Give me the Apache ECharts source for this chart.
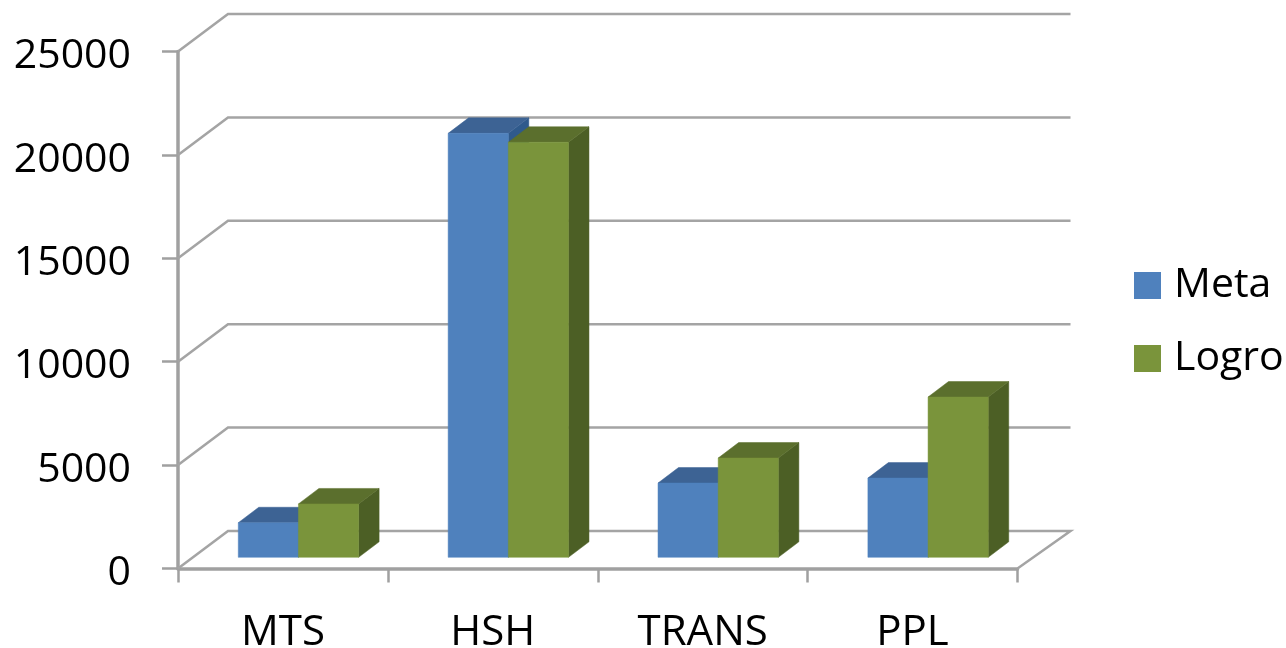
<!DOCTYPE html>
<html><head><meta charset="utf-8">
<style>html,body{margin:0;padding:0;background:#fff;overflow:hidden}#c{width:1286px;height:648px}</style>
<script src="https://cdn.jsdelivr.net/npm/echarts@6/dist/echarts.min.js"></script>
</head><body><div id="c"></div>
<script>
const categories = ["MTS", "HSH", "TRANS", "PPL"];
const meta = [1670, 20500, 3590, 3830];
const logro = [2580, 20070, 4800, 7750];
const gridValues = [5000, 10000, 15000, 20000, 25000];

const FONT = '"Open Sans", "Noto Sans", sans-serif';
const GRID_COLOR = '#a4a4a4';
const AXIS_COLOR = '#a0a0a0';
const WALL_DX = 50, WALL_DY = -37.5, WALL_EXT = 3;
const BAR_DX = 20.5, BAR_DY = -15.5;
const BAR_LIFT = -11.2, BAR_SHIFT = 15.5;
const BAR_RATIO = 60.2 / 210;

function poly(points, fill) {
  return { type: 'polygon', shape: { points }, style: { fill, stroke: fill, lineWidth: 0.5 } };
}
function barRenderer(front, top, side, slot) {
  return function (params, api) {
    const base = api.coord([api.value(0), 0]);
    const tip = api.coord([api.value(0), api.value(1)]);
    const w = api.size([1, 0])[0] * BAR_RATIO;
    const x0 = base[0] + BAR_SHIFT + slot * w;
    const x1 = x0 + w;
    const yb = base[1] + BAR_LIFT;
    const yt = tip[1] + BAR_LIFT;
    return {
      type: 'group',
      children: [
        poly([[x1, yt], [x1 + BAR_DX, yt + BAR_DY], [x1 + BAR_DX, yb + BAR_DY], [x1, yb]], side),
        poly([[x0, yt], [x0 + BAR_DX, yt + BAR_DY], [x1 + BAR_DX, yt + BAR_DY], [x1, yt]], top),
        poly([[x0, yt], [x1, yt], [x1, yb], [x0, yb]], front)
      ]
    };
  };
}
function wallRenderer(params, api) {
  const cs = params.coordSys;
  const y = api.coord([0, api.value(1)])[1];
  return {
    type: 'polyline',
    shape: { points: [[cs.x, y], [cs.x + WALL_DX, y + WALL_DY], [cs.x + cs.width + WALL_DX + WALL_EXT, y + WALL_DY]] },
    style: { fill: null, stroke: GRID_COLOR, lineWidth: 2.5 }
  };
}
function floorRenderer(params, api) {
  const cs = params.coordSys;
  const y = api.coord([0, 0])[1];
  return {
    type: 'polyline',
    shape: { points: [[cs.x, y], [cs.x + WALL_DX, y + WALL_DY], [cs.x + cs.width + WALL_DX + WALL_EXT, y + WALL_DY], [cs.x + cs.width, y]] },
    style: { fill: null, stroke: GRID_COLOR, lineWidth: 2.5 }
  };
}

const chart = echarts.init(document.getElementById('c'), null, { renderer: 'canvas' });
chart.setOption({
  animation: false,
  backgroundColor: '#fff',
  textStyle: { fontFamily: FONT },
  grid: { left: 178, right: 268.5, top: 51.5, bottom: 79.5, containLabel: false, outerBoundsMode: 'none' },
  legend: {
    orient: 'vertical', left: 1129, top: 260,
    itemWidth: 27, itemHeight: 27, itemGap: 32,
    icon: 'rect',
    data: ['Meta', 'Logro'],
    textStyle: { fontFamily: FONT, fontSize: 41, color: '#000', padding: [0, 0, 0, 8] }
  },
  xAxis: {
    type: 'category', data: categories,
    axisLine: { lineStyle: { color: AXIS_COLOR, width: 3.5 } },
    axisTick: { show: true, length: 14, lineStyle: { color: AXIS_COLOR, width: 2.5 } },
    axisLabel: { fontFamily: FONT, fontSize: 42, color: '#000', margin: 44 },
    splitLine: { show: false }
  },
  yAxis: {
    type: 'value', min: 0, max: 25000, interval: 5000,
    axisLine: { show: true, lineStyle: { color: AXIS_COLOR, width: 3.5 } },
    axisTick: { show: true, length: 16, lineStyle: { color: AXIS_COLOR, width: 2.5 } },
    axisLabel: { fontFamily: FONT, fontSize: 41, color: '#000', margin: 47, verticalAlign: 'top', lineHeight: 10,
      formatter: function (v) { return String(v); } },
    splitLine: { show: false }
  },
  series: [
    { type: 'custom', silent: true, z: 1, clip: false, renderItem: wallRenderer,
      data: gridValues.map(v => [0, v]), encode: { x: 0, y: 1 } },
    { type: 'custom', silent: true, z: 1, clip: false, renderItem: floorRenderer,
      data: [[0, 0]], encode: { x: 0, y: 1 } },
    { name: 'Meta', type: 'custom', z: 3, clip: false, itemStyle: { color: '#4f81bd' },
      renderItem: barRenderer('#4f81bd', '#3d6394', '#2f5a8c', -1),
      data: meta.map((v, i) => [i, v]), encode: { x: 0, y: 1 } },
    { name: 'Logro', type: 'custom', z: 4, clip: false, itemStyle: { color: '#7a943b' },
      renderItem: barRenderer('#7a943b', '#5b6f2d', '#4c5f25', 0),
      data: logro.map((v, i) => [i, v]), encode: { x: 0, y: 1 } }
  ]
});
</script></body></html>
